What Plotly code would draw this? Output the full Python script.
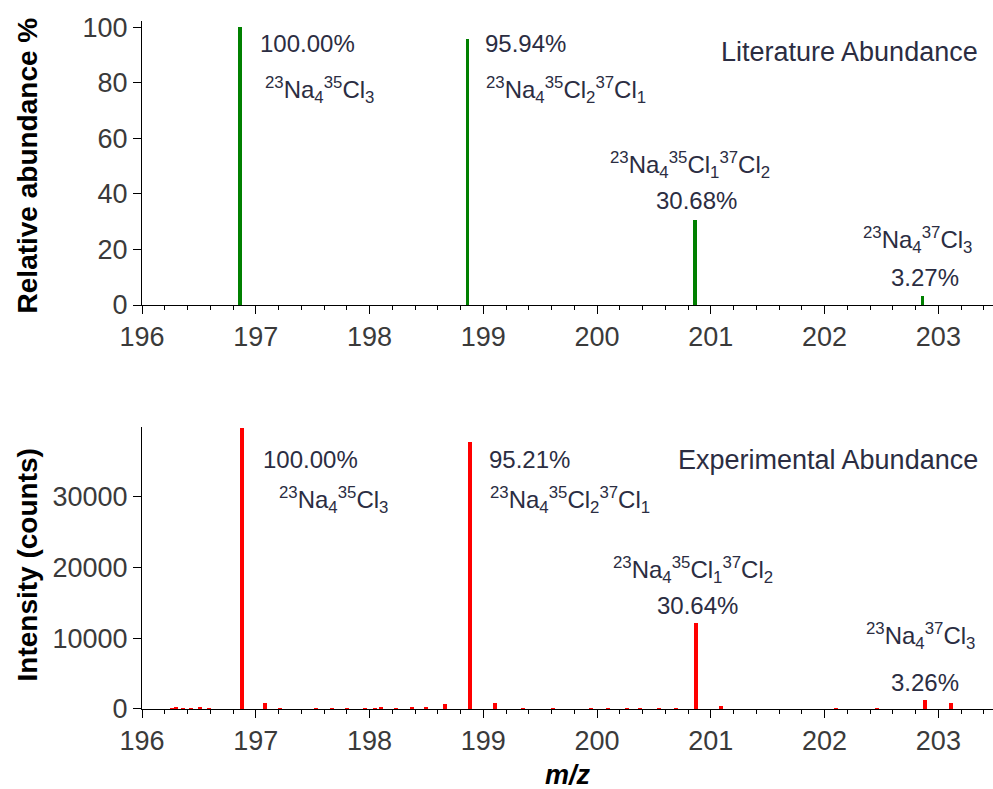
import plotly.graph_objects as go
from plotly.subplots import make_subplots

# ---- data ----
lit_mz = [196.86, 198.86, 200.86, 202.86]
lit_abundance = [100.00, 95.94, 30.68, 3.27]

exp_mz = [196.26, 196.30, 196.36, 196.43, 196.51, 196.59, 196.88, 197.08, 197.21,
          197.53, 197.67, 197.80, 197.96, 198.05, 198.10, 198.23, 198.37, 198.50,
          198.66, 198.88, 199.10, 199.35, 199.61, 199.95, 200.10, 200.26, 200.38,
          200.54, 200.69, 200.87, 201.09, 202.10, 202.46, 202.88, 203.11]
exp_counts = [30, 240, 60, 190, 280, 190, 39600, 800, 40,
              30, 30, 30, 30, 200, 300, 200, 280, 280,
              750, 37700, 880, 30, 30, 40, 190, 30, 30,
              190, 190, 12130, 470, 190, 30, 1291, 800]

formulas = ["<sup>23</sup>Na<sub>4</sub><sup>35</sup>Cl<sub>3</sub>",
            "<sup>23</sup>Na<sub>4</sub><sup>35</sup>Cl<sub>2</sub><sup>37</sup>Cl<sub>1</sub>",
            "<sup>23</sup>Na<sub>4</sub><sup>35</sup>Cl<sub>1</sub><sup>37</sup>Cl<sub>2</sub>",
            "<sup>23</sup>Na<sub>4</sub><sup>37</sup>Cl<sub>3</sub>"]
lit_pct_labels = ["100.00%", "95.94%", "30.68%", "3.27%"]
exp_pct_labels = ["100.00%", "95.21%", "30.64%", "3.26%"]

x_ticks = [196, 197, 198, 199, 200, 201, 202, 203]

FONT = "Liberation Sans, Arial, sans-serif"
TXT = "#2b2d42"
TICK = "#3a3a3a"

fig = make_subplots(rows=2, cols=1, vertical_spacing=0.1)

fig.add_trace(go.Bar(x=lit_mz, y=lit_abundance, width=0.033,
                     marker=dict(color="#008000", line=dict(width=0)),
                     showlegend=False), row=1, col=1)
fig.add_trace(go.Bar(x=exp_mz, y=exp_counts, width=0.035,
                     marker=dict(color="#ff0000", line=dict(width=0)),
                     showlegend=False), row=2, col=1)

axis_common = dict(showline=True, linecolor="black", linewidth=1, ticks="outside",
                   tickcolor="black", ticklen=8, tickwidth=1, showgrid=False,
                   zeroline=False, tickfont=dict(family=FONT, size=27, color=TICK))

for ax in ["xaxis", "xaxis2"]:
    fig.layout[ax].update(**axis_common, range=[196, 203.48], tickvals=x_ticks,
                          minor=dict(dtick=0.2, tick0=196, ticks="outside", ticklen=4,
                                     tickcolor="black", tickwidth=1))
fig.layout.xaxis.update(domain=[0, 1])
fig.layout.xaxis2.update(domain=[0, 1])
fig.layout.yaxis.update(**axis_common, range=[0, 102.3], dtick=20, domain=[0.5872, 1.0])
fig.layout.yaxis2.update(**axis_common, range=[0, 39770], dtick=10000, tickformat="d",
                         domain=[0.0, 0.4099])

ann = []
def add(text, x, y, xref, yref, xanchor="left", size=24):
    ann.append(dict(text=text, x=x, y=y, xref=xref, yref=yref, xanchor=xanchor,
                    yanchor="middle", showarrow=False,
                    font=dict(family=FONT, size=size, color=TXT)))

# top panel labels
add(lit_pct_labels[0], 197.02, 94.2, "x", "y")
add(formulas[0], 197.06, 77.3, "x", "y")
add(lit_pct_labels[1], 199.00, 94.2, "x", "y")
add(formulas[1], 199.01, 77.3, "x", "y")
add(formulas[2], 200.82, 50.3, "x", "y", "center")
add(lit_pct_labels[2], 200.87, 37.7, "x", "y", "center")
add(formulas[3], 202.82, 23.3, "x", "y", "center")
add(lit_pct_labels[3], 202.88, 10.0, "x", "y", "center")
add("Literature Abundance", 203.37, 91.0, "x", "y", "right", 27)

# bottom panel labels
add(exp_pct_labels[0], 197.05, 35160, "x2", "y2")
add(formulas[0], 197.19, 29520, "x2", "y2")
add(exp_pct_labels[1], 199.03, 35160, "x2", "y2")
add(formulas[1], 199.04, 29520, "x2", "y2")
add(formulas[2], 200.84, 19650, "x2", "y2", "center")
add(exp_pct_labels[2], 200.88, 14570, "x2", "y2", "center")
add(formulas[3], 202.84, 10340, "x2", "y2", "center")
add(exp_pct_labels[3], 202.88, 3710, "x2", "y2", "center")
add("Experimental Abundance", 203.37, 35160, "x2", "y2", "right", 27)

# axis titles
ann.append(dict(text="<b>Relative abundance %</b>", x=-0.134, y=0.79, xref="paper",
                yref="paper", textangle=-90, showarrow=False, xanchor="center",
                yanchor="middle", font=dict(family=FONT, size=28, color="black")))
ann.append(dict(text="<b>Intensity (counts)</b>", x=-0.134, y=0.21, xref="paper",
                yref="paper", textangle=-90, showarrow=False, xanchor="center",
                yanchor="middle", font=dict(family=FONT, size=28, color="black")))
ann.append(dict(text="<b><i>m/z</i></b>", x=0.5, y=-0.096, xref="paper",
                yref="paper", showarrow=False, xanchor="center", yanchor="middle",
                font=dict(family=FONT, size=27, color="black")))

fig.update_layout(width=993, height=789, margin=dict(l=142, r=0, t=21, b=80),
                  plot_bgcolor="white", paper_bgcolor="white", annotations=ann,
                  bargap=0, showlegend=False)

fig.write_html("out.html")
